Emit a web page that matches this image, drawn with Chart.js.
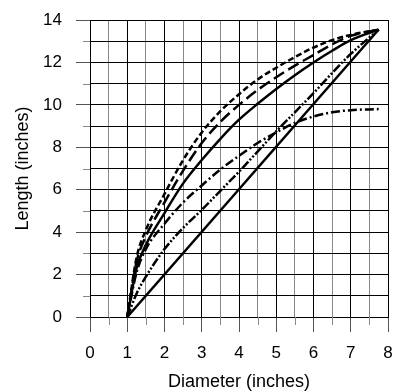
<!DOCTYPE html>
<html>
<head>
<meta charset="utf-8">
<script src="https://cdn.jsdelivr.net/npm/chart.js@4"></script>
<style>
  body { margin: 0; background: #fff; }
  canvas { display: block; }
</style>
</head>
<body>
<canvas id="chart" width="393" height="391"></canvas>
<script>
// values
const diameters = [1, 1.25, 1.5, 2, 2.5, 3, 3.5, 4, 4.5, 5, 5.5, 6, 6.5, 7, 7.75];
const shortDash   = [0, 2.8, 4.1, 5.8, 7.4, 8.7, 9.7, 10.5, 11.2, 11.75, 12.25, 12.7, 13.05, 13.3, 13.55];
const longDash    = [0, 2.6, 3.8, 5.4, 6.9, 8.2, 9.2, 10.0, 10.7, 11.3, 11.85, 12.35, 12.85, 13.25, 13.55];
const solidCurve  = [0, 2.3, 3.4, 4.9, 6.3, 7.4, 8.4, 9.3, 10.05, 10.75, 11.4, 12.0, 12.55, 13.05, 13.55];
const dashDot     = [0, 2.1, 3.2, 4.4, 5.4, 6.2, 6.95, 7.6, 8.2, 8.7, 9.15, 9.45, 9.65, 9.75, 9.8];
const dashDotDot  = [0, 1.1, 1.9, 3.2, 4.2, 5.05, 5.95, 6.85, 7.8, 8.75, 9.65, 10.55, 11.5, 12.4, 13.55];
const straightX   = [1, 7.75];
const straightY   = [0, 13.55];

const xTicks = [0, 1, 2, 3, 4, 5, 6, 7, 8];
const yTicks = [0, 2, 4, 6, 8, 10, 12, 14];

const fontFamily = '"Liberation Sans", Arial, sans-serif';

function pairs(xs, ys) {
    return xs.map((x, i) => ({ x: x, y: ys[i] }));
}

function line(xs, ys, dash) {
    return {
        data: pairs(xs, ys),
        borderColor: '#000',
        borderWidth: 2.5,
        borderDash: dash,
        pointRadius: 0,
        cubicInterpolationMode: 'monotone',
        fill: false
    };
}

// short minor tick marks outside the plot
const minorTicks = {
    id: 'minorTicks',
    afterDraw(chart) {
        const { ctx, chartArea, scales: { x, y } } = chart;
        ctx.save();
        ctx.strokeStyle = '#888';
        ctx.lineWidth = 1;
        ctx.beginPath();
        x.ticks.forEach(t => {
            if (!xTicks.includes(t.value)) {
                const px = Math.round(x.getPixelForValue(t.value)) + 0.5;
                ctx.moveTo(px, chartArea.bottom);
                ctx.lineTo(px, chartArea.bottom + 8);
            }
        });
        y.ticks.forEach(t => {
            if (!yTicks.includes(t.value)) {
                const py = Math.round(y.getPixelForValue(t.value)) + 0.5;
                ctx.moveTo(chartArea.left - 7, py);
                ctx.lineTo(chartArea.left, py);
            }
        });
        ctx.stroke();
        ctx.restore();
    }
};

new Chart(document.getElementById('chart'), {
    type: 'line',
    data: {
        datasets: [
            line(straightX, straightY, []),
            line(diameters, dashDotDot, [9, 2, 2, 2, 2, 2]),
            line(diameters, dashDot, [9, 3, 2, 3]),
            line(diameters, solidCurve, []),
            line(diameters, longDash, [12, 5]),
            line(diameters, shortDash, [6, 3])
        ]
    },
    options: {
        responsive: false,
        animation: false,
        layout: { padding: { top: 20, right: 5, left: 0, bottom: 0 } },
        plugins: { legend: { display: false }, tooltip: { enabled: false } },
        scales: {
            x: {
                type: 'linear',
                min: 0,
                max: 8,
                afterFit: s => { s.height = 74; s.paddingLeft = 0; s.paddingRight = 0; },
                ticks: {
                    stepSize: 0.5,
                    autoSkip: false,
                    maxRotation: 0,
                    padding: 11,
                    color: '#000',
                    font: { family: fontFamily, size: 17 },
                    callback: v => xTicks.includes(v) ? String(v) : ''
                },
                grid: {
                    color: c => xTicks.includes(c.tick.value) ? '#000' : '#888',
                    tickColor: c => xTicks.includes(c.tick.value) ? '#555' : 'rgba(0,0,0,0)',
                    tickLength: 15,
                    lineWidth: 1
                },
                border: { color: '#000' },
                title: {
                    display: true,
                    text: 'Diameter (inches)',
                    color: '#000',
                    font: { family: fontFamily, size: 18, lineHeight: 1 },
                    padding: { top: 0, bottom: 0 }
                }
            },
            y: {
                type: 'linear',
                min: 0,
                max: 14,
                afterFit: s => { s.width = 90; s.paddingTop = 0; s.paddingBottom = 0; },
                ticks: {
                    stepSize: 1,
                    autoSkip: false,
                    padding: 14,
                    color: '#000',
                    font: { family: fontFamily, size: 17 },
                    callback: v => yTicks.includes(v) ? String(v) : ''
                },
                grid: {
                    color: '#000',
                    tickColor: c => yTicks.includes(c.tick.value) ? '#555' : 'rgba(0,0,0,0)',
                    tickLength: 14,
                    lineWidth: 1
                },
                border: { color: '#000' },
                title: {
                    display: true,
                    text: 'Length (inches)',
                    color: '#000',
                    font: { family: fontFamily, size: 18, lineHeight: 1.2 },
                    padding: { top: 12, bottom: 0 }
                }
            }
        }
    },
    plugins: [minorTicks]
});
</script>
</body>
</html>
